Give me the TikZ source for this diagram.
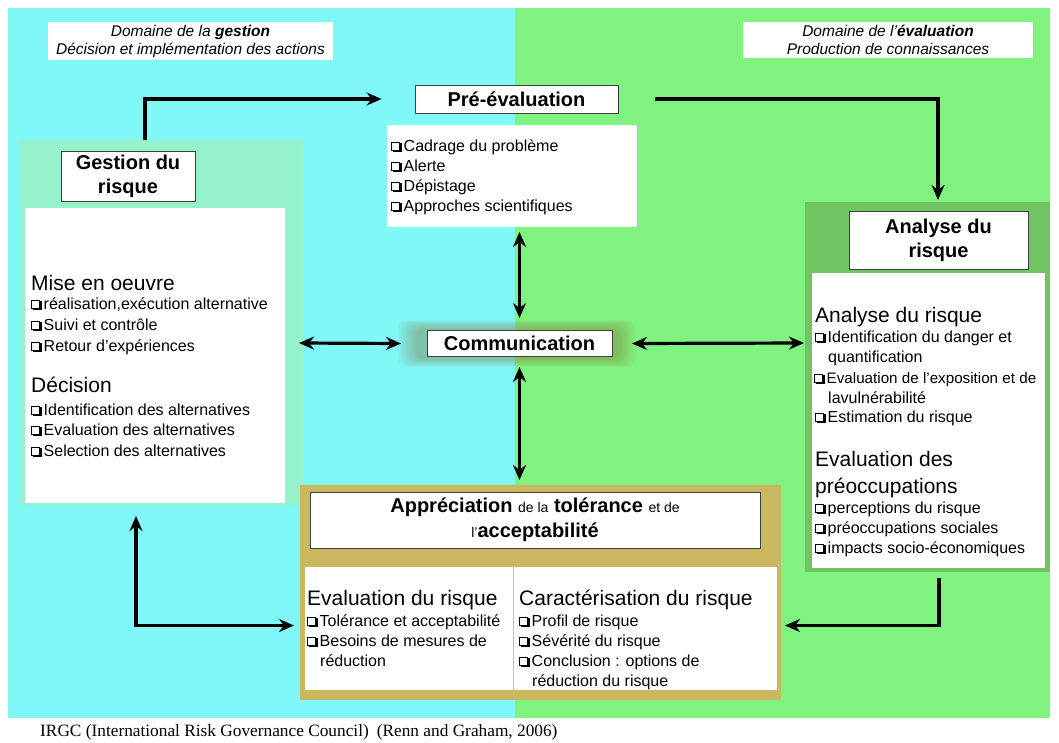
\documentclass[tikz,border=0pt]{standalone}
\usepackage{fontspec}
\setmainfont{Liberation Sans}
\newfontfamily\capf{Liberation Serif}
\usetikzlibrary{arrows.meta}
\definecolor{bgcyan}{RGB}{128,248,248}
\definecolor{bggreen}{RGB}{128,242,128}
\definecolor{gframec}{RGB}{150,242,205}
\definecolor{aframec}{RGB}{112,196,98}
\definecolor{bframec}{RGB}{202,184,96}
\definecolor{haloc}{RGB}{130,105,40}
\newcommand\cbx{\leavevmode\hbox to 12.5pt{%
  \rlap{\rule{9pt}{0.8pt}}%
  \rlap{\raisebox{8.2pt}{\rule{9pt}{0.8pt}}}%
  \rlap{\rule{0.8pt}{9pt}}%
  \rlap{\hspace{8.2pt}\rule{0.8pt}{9pt}}%
  \rlap{\hspace{1.5pt}\raisebox{-1.4pt}{\rule{9pt}{1.4pt}}}%
  \rlap{\hspace{9pt}\raisebox{-1.4pt}{\rule{1.4pt}{9pt}}}%
  \hfil}}
\tikzset{
  panel/.style={anchor=north west, inner sep=0pt, outer sep=0pt},
  tbox/.style={draw=black!75, line width=0.8pt, fill=white, inner sep=0pt, align=center,
    font=\fontsize{20}{24}\selectfont\bfseries},
  ln/.style={anchor=base west, inner sep=0pt, font=\fontsize{16}{18}\selectfont},
  hd/.style={anchor=base west, inner sep=0pt, font=\fontsize{21}{25}\selectfont},
  lab/.style={fill=white, inner sep=0pt, align=center, font=\fontsize{15.5}{18}\selectfont\itshape},
  arr/.style={line width=3.2pt, -{Stealth[length=15pt,width=13pt]}},
  darr/.style={line width=3.2pt, {Stealth[length=15pt,width=13pt]}-{Stealth[length=15pt,width=13pt]}}
}
\begin{document}
\begin{tikzpicture}[x=1pt,y=-1pt]
\useasboundingbox (0,0) rectangle (1059,742);
% backgrounds
\fill[bgcyan] (8,8) rectangle (515,718);
\fill[bggreen] (515,8) rectangle (1050,718);
% domain labels
\node[lab, minimum width=285, minimum height=38] (labL) at (190.5,41) {Domaine de la \textbf{gestion}\\ Décision et implémentation des actions};
\node[lab, minimum width=290, minimum height=36] (labR) at (888,40) {Domaine de l’\textbf{évaluation}\\ Production de connaissances};
% frames
\node[panel, fill=gframec, minimum width=283, minimum height=365] (gframe) at (20,140) {};
\node[panel, fill=white, minimum width=260, minimum height=295] (gcont) at (25,208) {};
\node[panel, fill=aframec, minimum width=245, minimum height=370] (aframe) at (805,202) {};
\node[panel, fill=white, minimum width=233, minimum height=295] (acont) at (812,273) {};
\node[panel, fill=bframec, minimum width=481, minimum height=215] (bframe) at (300,485) {};
\node[panel, fill=white, minimum width=472, minimum height=123] (bcont) at (305,567) {};
\draw[black!25, line width=1pt] (bcont.north -| 513,0) -- (bcont.south -| 513,0);
\node[panel, fill=white, minimum width=250, minimum height=102] (pcont) at (387,125) {};
% communication halo
\foreach \d in {0,2.5,5,7.5,10,12.5,15,17.5}
  \fill[haloc, opacity=0.055, rounded corners=9pt] (398+\d,320+\d*0.45) rectangle (635-\d,367-\d*0.45);
\node[panel, minimum width=227, minimum height=43] (halo) at (403,322) {};
% title boxes
\node[tbox, minimum width=203, minimum height=28] (ptitle) at (516.5,99) {Pré-évaluation};
\node[tbox, minimum width=134, minimum height=50] (gtitle) at (128,176) {Gestion du\\risque};
\node[tbox, minimum width=179, minimum height=58] (atitle) at (938.5,240) {Analyse du\\risque};
\node[tbox, minimum width=185, minimum height=26] (comm) at (519.5,343) {Communication};
\node[tbox, minimum width=450, minimum height=56, font=\fontsize{20}{25}\selectfont] (btitle) at (535,520)
  {\textbf{Appréciation} {\fontsize{14}{14}\selectfont de la} \textbf{tolérance} {\fontsize{14}{14}\selectfont et de}\\{\fontsize{14}{14}\selectfont l’}\textbf{acceptabilité}};
% Pré-évaluation items
\node[ln] (p1) at (391,151) {\cbx Cadrage du problème};
\node[ln] (p2) at (391,171) {\cbx Alerte};
\node[ln] (p3) at (391,191) {\cbx Dépistage};
\node[ln] (p4) at (391,211) {\cbx Approches scientifiques};
% Gestion items
\node[hd] (g0) at (31,290) {Mise en oeuvre};
\node[ln] (g1) at (31,309) {\cbx réalisation,exécution alternative};
\node[ln] (g2) at (31,330) {\cbx Suivi et contrôle};
\node[ln] (g3) at (31,351) {\cbx Retour d’expériences};
\node[hd] (g4) at (31,392) {Décision};
\node[ln] (g5) at (31,415) {\cbx Identification des alternatives};
\node[ln] (g6) at (31,435) {\cbx Evaluation des alternatives};
\node[ln] (g7) at (31,456) {\cbx Selection des alternatives};
% Analyse items
\node[hd] (a0) at (815,322) {Analyse du risque};
\node[ln] (a1) at (815,342) {\cbx Identification du danger et};
\node[ln] (a2) at (828,362) {quantification};
\node[ln, font=\fontsize{15.2}{18}\selectfont] (a3) at (814,383) {\cbx Evaluation de l’exposition et de};
\node[ln] (a4) at (828,403) {lavulnérabilité};
\node[ln] (a5) at (815,422) {\cbx Estimation du risque};
\node[hd] (a6) at (815,466) {Evaluation des};
\node[hd] (a7) at (815,493) {préoccupations};
\node[ln] (a8) at (815,513) {\cbx perceptions du risque};
\node[ln] (a9) at (815,533) {\cbx préoccupations sociales};
\node[ln] (a10) at (815,553) {\cbx impacts socio-économiques};
% bottom items
\node[hd] (b0) at (307,605) {Evaluation du risque};
\node[ln] (b1) at (307,626) {\cbx Tolérance et acceptabilité};
\node[ln] (b2) at (307,646) {\cbx Besoins de mesures de};
\node[ln] (b3) at (320,666) {réduction};
\node[hd] (c0) at (519,605) {Caractérisation du risque};
\node[ln] (c1) at (519,626) {\cbx Profil de risque};
\node[ln] (c2) at (519,646) {\cbx Sévérité du risque};
\node[ln] (c3) at (519,666) {\cbx Conclusion : options de};
\node[ln] (c4) at (532,686) {réduction du risque};
% caption
\node[anchor=base west, inner sep=0pt, font=\capf\fontsize{17.3}{19}\selectfont] (cap) at (40,736)
  {IRGC (International Risk Governance Council)\hspace{8pt}(Renn and Graham, 2006)};
% connectors
\coordinate (gtop) at ([xshift=-16.5pt]gframe.north);
\coordinate (pin) at ([xshift=-33pt]ptitle.west);
\coordinate (pout) at ([xshift=37pt]ptitle.east);
\coordinate (atop) at ([xshift=10.5pt,yshift=2pt]aframe.north);
\coordinate (abot) at ([xshift=11.5pt,yshift=-6pt]aframe.south);
\coordinate (bre) at ([xshift=4pt,yshift=-33pt]bframe.east);
\coordinate (ble) at ([xshift=-6pt,yshift=-33pt]bframe.west);
\coordinate (gbot) at ([xshift=-25.5pt,yshift=-11pt]gframe.south);
\draw[arr] (gtop) |- (pin);
\draw[arr] (pout) -| (atop);
\draw[arr] (abot) |- (bre);
\draw[darr] (gbot) |- (ble);
\draw[darr] ([xshift=-4pt]gframe.east |- comm) -- ([xshift=-2pt]halo.west);
\draw[darr] ([xshift=2pt]halo.east) -- ([xshift=-1pt]aframe.west |- comm);
\draw[darr] ([yshift=-5pt]pcont.south -| comm.north) -- ([yshift=4pt]halo.north -| comm.north);
\draw[darr] ([yshift=-2pt]halo.south -| comm.south) -- ([yshift=5pt]bframe.north -| comm.south);
\end{tikzpicture}
\end{document}
